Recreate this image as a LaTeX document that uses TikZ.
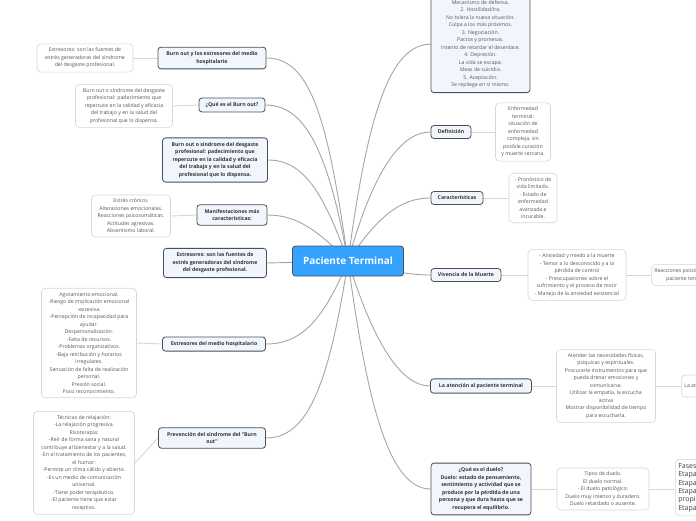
\documentclass[tikz,border=0pt]{standalone}
\usepackage{fontspec}
\setmainfont{Open Sans}
\usetikzlibrary{backgrounds}
\definecolor{CoreBlue}{RGB}{51,163,255}
\definecolor{TopicFill}{RGB}{241,246,253}
\definecolor{TopicLine}{RGB}{72,80,90}
\definecolor{NoteLine}{RGB}{214,214,214}
\definecolor{NoteText}{RGB}{88,88,88}
\definecolor{LinkGray}{RGB}{165,165,165}

\tikzset{
  core/.style={draw=TopicLine, fill=CoreBlue, rounded corners=3pt, line width=0.8pt,
    text=white, font=\fontsize{10}{12}\selectfont\bfseries, minimum width=111pt, minimum height=30pt},
  topic/.style={draw=TopicLine, fill=TopicFill, rounded corners=3pt, line width=0.8pt,
    text=black!80, font=\fontsize{5.2}{7.5}\selectfont\bfseries, align=center,
    inner xsep=3pt, inner ysep=4.5pt},
  note/.style={draw=NoteLine, fill=white, rounded corners=4pt, line width=0.6pt,
    text=NoteText, font=\fontsize{5.2}{7.5}\selectfont, align=center,
    inner xsep=3pt, inner ysep=4pt},
  branch/.style={draw=LinkGray, line width=0.9pt},
  twig/.style={draw=NoteLine, line width=0.9pt},
}

\begin{document}
\begin{tikzpicture}[x=1pt,y=-1pt]
  \useasboundingbox (0,0) rectangle (696,520);
  \clip (0,0) rectangle (696,520);

  \node[core] (pt) at (348,261) {Paciente Terminal};

  % left side
  \node[topic, minimum width=108pt] (bohosp) at (212,58) {Burn out y los estresores del medio\\hospitalario};
  \node[note, minimum width=96pt] (bohospn) at (85,58) {Estresores: son las fuentes de\\estrés generadoras del síndrome\\del desgaste profesional.};
  \node[topic, minimum width=66pt] (queb) at (232,105) {¿Qué es el Burn out?};
  \node[note, minimum width=97pt] (quebn) at (124,106) {Burn out o síndrome del desgaste\\profesional: padecimiento que\\repercute en la calidad y eficacia\\del trabajo y en la salud del\\profesional que lo dispensa.};
  \node[topic, minimum width=105pt] (sindr) at (215,160) {Burn out o síndrome del desgaste\\profesional: padecimiento que\\repercute en la calidad y eficacia\\del trabajo y en la salud del\\profesional que lo dispensa.};
  \node[topic, minimum width=70pt] (manif) at (232,215) {Manifestaciones más\\características:};
  \node[note, minimum width=79pt] (manifn) at (131,216) {Estrés crónico.\\Alteraciones emocionales.\\Reacciones psicosomáticas.\\Actitudes agresivas.\\Absentismo laboral.};
  \node[topic, minimum width=103pt] (estr) at (215,263) {Estresores: son las fuentes de\\estrés generadoras del síndrome\\del desgaste profesional.};
  \node[topic, minimum width=103pt] (medio) at (214,344) {Estresores del medio hospitalario};
  \node[note, minimum width=95pt] (medion) at (89,343) {Agotamiento emocional.\\-Riesgo de implicación emocional\\-excesiva.\\-Percepción de incapacidad para\\ayudar.\\Despersonalización.\\-Falta de recursos.\\-Problemas organizativos.\\-Baja retribución y horarios\\irregulares.\\Sensación de falta de realización\\personal.\\Presión social.\\Poco reconocimiento.};
  \node[topic, minimum width=107pt] (prev) at (212,438) {Prevención del síndrome del "Burn\\out"};
  \node[note, minimum width=101pt] (prevn) at (84,463) {Técnicas de relajación:\\-La relajación progresiva.\\Risoterapia:\\-Reír de forma sana y natural\\contribuye al bienestar y a la salud.\\-En el tratamiento de los pacientes,\\el humor:\\-Permite un clima cálido y abierto.\\-Es un medio de comunicación\\universal.\\-Tiene poder terapéutico.\\-El paciente tiene que estar\\receptivo.};

  % right side
  \node[topic, font=\fontsize{5.2}{7.5}\selectfont, text=NoteText, minimum width=99pt, anchor=south] (fases) at (480.5,93) {Mecanismo de defensa.\\2. Hostilidad/Ira.\\No tolera la nueva situación.\\Culpa a los más próximos.\\3. Negociación.\\Pactos y promesas.\\Intento de retardar el desenlace.\\4. Depresión.\\La vida se escapa.\\Ideas de suicidio.\\5. Aceptación.\\Se repliega en sí mismo.};
  \node[topic, minimum width=40pt] (defi) at (451,132) {Definición};
  \node[note, minimum width=55pt] (defin) at (523,132) {Enfermedad\\terminal:\\situación de\\enfermedad\\compleja, sin\\posible curación\\y muerte cercana.};
  \node[topic, minimum width=52pt] (carac) at (457,198) {Características};
  \node[note, minimum width=48pt] (caracn) at (533,198) {- Pronóstico de\\vida limitado.\\- Estado de\\enfermedad\\avanzada e\\incurable.};
  \node[topic, minimum width=70pt] (viv) at (466,275) {Vivencia de la Muerte};
  \node[note, minimum width=98pt] (vivn) at (577,275) {- Ansiedad y miedo a la muerte\\- Temor a lo desconocido y a la\\pérdida de control\\- Preocupaciones sobre el\\sufrimiento y el proceso de morir\\- Manejo de la ansiedad existencial};
  \node[note, anchor=west] (vivr) at (651,275) {Reacciones psicológicas del\\paciente terminal};
  \node[topic, minimum width=101pt] (aten) at (481,386) {La atención al paciente terminal};
  \node[note, minimum width=99pt] (atenn) at (606,386) {Atender las necesidades físicas,\\psíquicas y espirituales.\\Procurarle instrumentos para que\\pueda drenar emociones y\\comunicarse.\\Utilizar la empatía, la escucha\\activa\\Mostrar disponibilidad de tiempo\\para escucharla.};
  \node[note, anchor=west, minimum height=22pt] (atenr) at (681,386) {La atención integral};
  \node[topic, minimum width=100pt] (duelo) at (481,489) {¿Qué es el duelo?\\Duelo: estado de pensamiento,\\sentimiento y actividad que se\\produce por la pérdida de una\\persona y que dura hasta que se\\recupera el equilibrio.};
  \node[note, minimum width=92pt] (duelon) at (603,489) {Tipos de duelo.\\El duelo normal.\\- El duelo patológico:\\Duelo muy intenso y duradero.\\Duelo retardado o ausente.};
  \node[note, anchor=north west, align=left, text=black!75, font=\fontsize{7}{8.3}\selectfont] (fasesd) at (675,459) {Fases del duelo:\\Etapa de negación.\\Etapa de ira.\\Etapa de negociación y búsqueda del\\propio sentido.\\Etapa de aceptación.};

  \begin{pgfonlayer}{background}
    % main branches
    \draw[branch] (pt.center) .. controls +(-20,-140) and +(45,0) .. (bohosp.east);
    \draw[branch] (pt.center) .. controls +(-20,-110) and +(40,0) .. (queb.east);
    \draw[branch] (pt.center) .. controls +(-25,-70) and +(35,0) .. (sindr.east);
    \draw[branch] (pt.center) .. controls +(-30,-30) and +(30,0) .. (manif.east);
    \draw[branch] (pt.center) -- (estr.east);
    \draw[branch] (pt.center) .. controls +(-25,60) and +(35,0) .. (medio.east);
    \draw[branch] (pt.center) .. controls +(-20,130) and +(40,0) .. (prev.east);
    \draw[branch] (pt.center) .. controls +(20,-150) and +(-40,0) .. (fases.west);
    \draw[branch] (pt.center) .. controls +(25,-90) and +(-30,0) .. (defi.west);
    \draw[branch] (pt.center) .. controls +(30,-45) and +(-30,0) .. (carac.west);
    \draw[branch] (pt.center) .. controls +(40,10) and +(-20,0) .. (viv.west);
    \draw[branch] (pt.center) .. controls +(25,80) and +(-30,0) .. (aten.west);
    \draw[branch] (pt.center) .. controls +(20,150) and +(-40,0) .. (duelo.west);
    % notes
    \draw[twig] (bohosp.west) -- (bohospn.east);
    \draw[twig] (queb.west) -- (quebn.east);
    \draw[twig] (manif.west) -- (manifn.east);
    \draw[twig] (medio.west) -- (medion.east);
    \draw[twig] (prev.west) -- (prevn.east);
    \draw[twig] (defi.east) -- (defin.west);
    \draw[twig] (carac.east) -- (caracn.west);
    \draw[twig] (viv.east) -- (vivn.west);
    \draw[twig] (vivn.east) -- (vivr.west);
    \draw[twig] (aten.east) -- (atenn.west);
    \draw[twig] (atenn.east) -- (atenr.west);
    \draw[twig] (duelo.east) -- (duelon.west);
    \draw[twig] (duelon.east) -- (duelon.east -| fasesd.west);
  \end{pgfonlayer}
\end{tikzpicture}
\end{document}
